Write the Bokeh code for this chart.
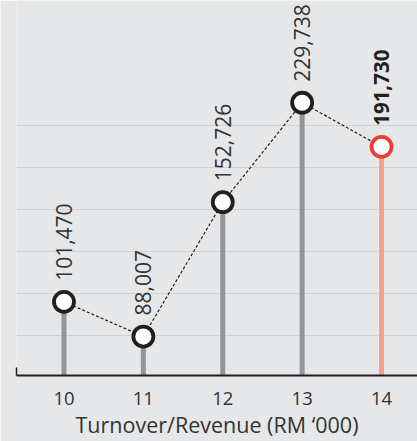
import math
import re
from bokeh.plotting import figure
from bokeh.models import Range1d, FixedTicker, ColumnDataSource, LabelSet
from bokeh.embed import file_html
from bokeh.resources import INLINE
from bokeh.core.properties import value

# ---- data ----
years = [10, 11, 12, 13, 14]
revenue = [101470, 88007, 152726, 229738, 191730]
value_labels = ["101,470", "88,007", "152,726", "229,738", "191,730"]
tick_labels = ["10", "11", "12", "13", "14"]
axis_title = "Turnover/Revenue (RM \u2018000)"

# ---- style ----
BG = "#e6e7e8"
TXT = "#231f20"
LBL = "#333333"
GRAY = "#939598"
SALMON = "#f8a08a"
RED = "#ee3b33"
FONT = "Open Sans"
Y0, Y1 = 75000, 349500
FRAME_H = 374
PX_PER_LN = FRAME_H / math.log(Y1 / Y0)
GRID_FIRST, GRID_STEP = 40.0, 41.9

stem_colors = [GRAY, GRAY, GRAY, GRAY, SALMON]
ring_colors = [TXT, TXT, TXT, TXT, RED]

p = figure(width=417, height=441, output_backend="svg", toolbar_location=None,
           x_range=Range1d(9.402, 14.453), y_range=Range1d(Y0, Y1),
           y_axis_type="log",
           min_border_left=16, min_border_right=0, min_border_top=0,
           min_border_bottom=66,
           background_fill_color=BG, border_fill_color=BG,
           outline_line_color=None)

# grid lines (evenly spaced on screen)
grid_vals = [Y0 * math.exp((GRID_FIRST + GRID_STEP * k) / PX_PER_LN)
             for k in range(6)]
p.xgrid.visible = False
p.ygrid.ticker = FixedTicker(ticks=grid_vals)
p.ygrid.grid_line_color = "#cfd1d3"
p.ygrid.grid_line_width = 1

# left axis: only a short stub at the baseline
p.yaxis.ticker = FixedTicker(ticks=[])
p.yaxis.minor_tick_line_color = None
p.yaxis.major_tick_line_color = None
p.yaxis.major_label_text_font_size = "0px"
p.yaxis.axis_line_color = TXT
p.yaxis.axis_line_width = 1.5
p.yaxis.bounds = (Y0, Y0 * math.exp(8 / PX_PER_LN))

# x axis
p.xaxis.ticker = FixedTicker(ticks=years)
p.xaxis.major_label_overrides = {y: t for y, t in zip(years, tick_labels)}
p.xaxis.major_tick_line_color = None
p.xaxis.minor_tick_line_color = None
p.xaxis.axis_line_color = TXT
p.xaxis.axis_line_width = 2
p.xaxis.major_label_text_font = FONT
p.xaxis.major_label_text_font_size = "18.5px"
p.xaxis.major_label_text_color = LBL
p.xaxis.major_label_standoff = 10
p.xaxis.axis_label = axis_title
p.xaxis.axis_label_text_font = FONT
p.xaxis.axis_label_text_font_size = "21.5px"
p.xaxis.axis_label_text_font_style = "normal"
p.xaxis.axis_label_text_color = LBL
p.xaxis.axis_label_standoff = 2

src = ColumnDataSource(dict(x=years, y=revenue, base=[Y0] * len(years),
                            stem=stem_colors, ring=ring_colors,
                            label=value_labels))

p.segment(x0="x", y0="base", x1="x", y1="y", source=src,
          line_color="stem", line_width=5)
p.line(x="x", y="y", source=src, line_color=TXT, line_width=1.2,
       line_dash="3 2")
p.scatter(x="x", y="y", source=src, size=20, fill_color="white",
          line_color="ring", line_width=3.8)

src_a = ColumnDataSource(dict(x=years[:-1], y=revenue[:-1],
                              label=value_labels[:-1]))
src_b = ColumnDataSource(dict(x=years[-1:], y=revenue[-1:],
                              label=value_labels[-1:]))
for s, style, col, fs in ((src_a, "normal", LBL, "21px"),
                          (src_b, "bold", TXT, "20.5px")):
    p.add_layout(LabelSet(x="x", y="y", text="label", source=s,
                          angle=math.pi / 2, y_offset=21,
                          text_align="left", text_baseline="middle",
                          text_font=value(FONT), text_font_size=fs,
                          text_font_style=style, text_color=col))

html = file_html(p, INLINE)
html = re.sub(r"<body([^>]*)>", r'<body\1 style="background-color:%s;">' % BG,
              html, count=1)
open("out.html", "w").write(html)
